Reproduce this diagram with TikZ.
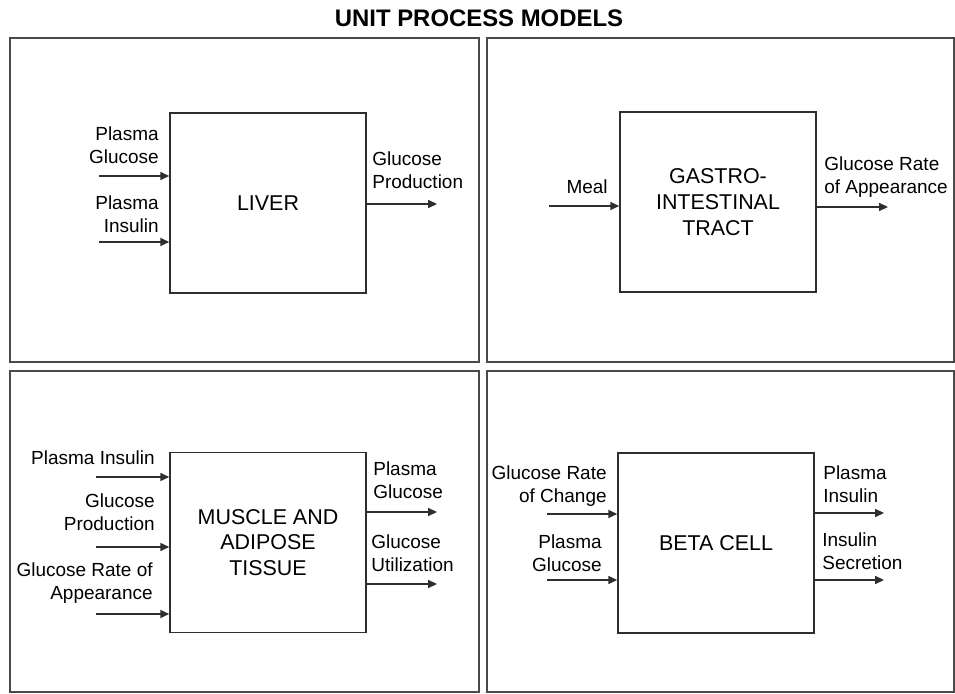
\documentclass[tikz,border=0pt]{standalone}
\usepackage{fontspec}
\setmainfont{Liberation Sans}
\usepackage{tikz}
\usetikzlibrary{arrows.meta}
\definecolor{UPLine}{HTML}{2E2E2E}
\definecolor{UPFrame}{HTML}{4A4A4A}

\begin{document}
\begin{tikzpicture}[x=1cm,y=1cm,
  procbox/.style={draw=UPLine,line width=0.9pt,minimum width=3.92cm,minimum height=3.6cm,
    inner sep=0pt,align=center,font=\fontsize{12.2}{14.7}\selectfont},
  flowline/.style={UPLine,line width=0.9pt,-{Triangle[length=5pt,width=4.5pt]}},
  sigtext/.style={font=\fontsize{10.8}{13}\selectfont,inner sep=0pt}]
\path[use as bounding box] (0,0) rectangle (19.10,13.88);
\node[font=\fontsize{13.6}{16}\selectfont\bfseries] (title) at (9.58,13.52) {UNIT PROCESS MODELS};
% panels
\draw[UPFrame,line width=1pt] (0.20,6.64) rectangle (9.58,13.12);
\draw[UPFrame,line width=1pt] (9.74,6.64) rectangle (19.08,13.12);
\draw[UPFrame,line width=1pt] (0.20,0.04) rectangle (9.58,6.46);
\draw[UPFrame,line width=1pt] (9.74,0.04) rectangle (19.08,6.46);
% liver
\node[procbox] (liver) at (5.36,9.82) {LIVER};
\coordinate (lvIn1) at (1.98,10.36);
\coordinate (lvIn2) at (1.98,9.04);
\coordinate (lvOut) at (8.74,9.80);
\draw[flowline] (lvIn1) -- (lvIn1 -| liver.west);
\draw[flowline] (lvIn2) -- (lvIn2 -| liver.west);
\draw[flowline] (lvOut -| liver.east) -- (lvOut);
\node[sigtext,anchor=east,align=right] (lvGlu) at (3.18,10.98) {Plasma\\Glucose};
\node[sigtext,anchor=east,align=right] (lvIns) at (3.18,9.60) {Plasma\\Insulin};
\node[sigtext,anchor=west,align=left] (lvProd) at (7.44,10.48) {Glucose\\Production};
% gastro-intestinal tract
\node[procbox] (gitract) at (14.36,9.84) {GASTRO-\\INTESTINAL\\TRACT};
\coordinate (giIn) at (10.98,9.76);
\coordinate (giOut) at (17.76,9.74);
\draw[flowline] (giIn) -- (giIn -| gitract.west);
\draw[flowline] (giOut -| gitract.east) -- (giOut);
\node[sigtext,anchor=east] (giMeal) at (12.16,10.14) {Meal};
\node[sigtext,anchor=west,align=left] (giRa) at (16.48,10.34) {Glucose Rate\\of Appearance};
% muscle and adipose tissue
\node[procbox] (muscle) at (5.36,3.03) {MUSCLE AND\\ADIPOSE\\TISSUE};
\coordinate (msIn1) at (1.92,4.34);
\coordinate (msIn2) at (1.92,2.94);
\coordinate (msIn3) at (1.92,1.60);
\coordinate (msOut1) at (8.74,3.64);
\coordinate (msOut2) at (8.74,2.20);
\draw[flowline] (msIn1) -- (msIn1 -| muscle.west);
\draw[flowline] (msIn2) -- (msIn2 -| muscle.west);
\draw[flowline] (msIn3) -- (msIn3 -| muscle.west);
\draw[flowline] (msOut1 -| muscle.east) -- (msOut1);
\draw[flowline] (msOut2 -| muscle.east) -- (msOut2);
\node[sigtext,anchor=east] (msIns) at (3.10,4.72) {Plasma Insulin};
\node[sigtext,anchor=east,align=right] (msProd) at (3.10,3.64) {Glucose\\Production};
\node[sigtext,anchor=east,align=right] (msRa) at (3.06,2.21) {Glucose Rate of\\Appearance};
\node[sigtext,anchor=west,align=left] (msGlu) at (7.46,4.28) {Plasma\\Glucose};
\node[sigtext,anchor=west,align=left] (msUtil) at (7.42,2.81) {Glucose\\Utilization};
% beta cell
\node[procbox] (beta) at (14.32,3.02) {BETA CELL};
\coordinate (btIn1) at (10.94,3.60);
\coordinate (btIn2) at (10.94,2.28);
\coordinate (btOut1) at (17.68,3.62);
\coordinate (btOut2) at (17.68,2.28);
\draw[flowline] (btIn1) -- (btIn1 -| beta.west);
\draw[flowline] (btIn2) -- (btIn2 -| beta.west);
\draw[flowline] (btOut1 -| beta.east) -- (btOut1);
\draw[flowline] (btOut2 -| beta.east) -- (btOut2);
\node[sigtext,anchor=east,align=right] (btRate) at (12.14,4.15) {Glucose Rate\\of Change};
\node[sigtext,anchor=east,align=right] (btGlu) at (12.04,2.81) {Plasma\\Glucose};
\node[sigtext,anchor=west,align=left] (btIns) at (16.46,4.20) {Plasma\\Insulin};
\node[sigtext,anchor=west,align=left] (btSec) at (16.44,2.85) {Insulin\\Secretion};
\end{tikzpicture}
\end{document}
